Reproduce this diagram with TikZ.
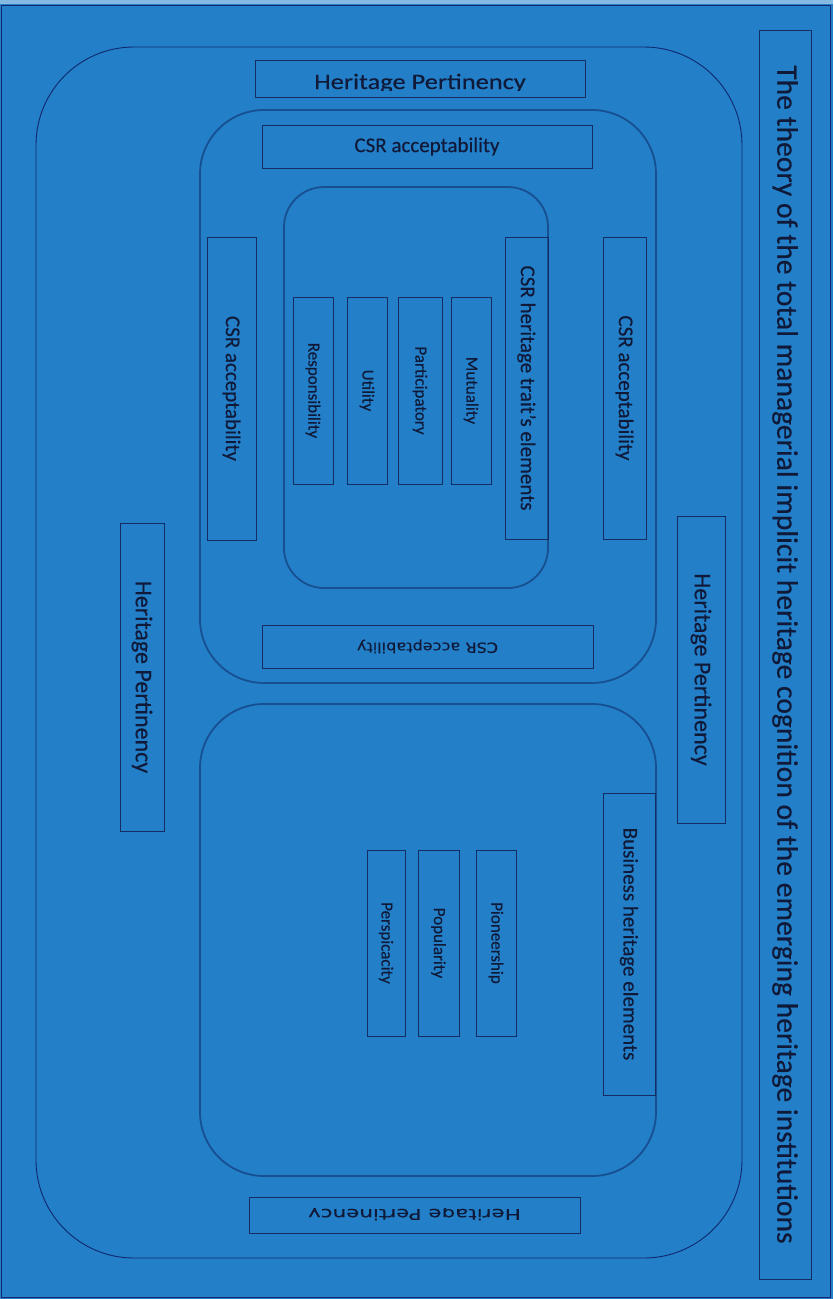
\documentclass[tikz,border=0pt]{standalone}
\usepackage{fontspec}
\setmainfont{Carlito}[FakeBold=0.35,AutoFakeBold=0.35]
\newfontfamily\dvs{DejaVu Sans}[FakeBold=0.2]
\usepackage{graphicx}
\definecolor{bgblue}{RGB}{34,127,200}
\definecolor{boxline}{RGB}{20,44,100}
\definecolor{softline}{RGB}{22,80,144}
\definecolor{outline}{RGB}{16,40,110}
\definecolor{txt}{RGB}{16,26,56}
\newcommand\myfs[1]{\fontsize{#1}{#1}\selectfont}
\begin{document}
\begin{tikzpicture}[x=1pt,y=-1pt,
  box/.style={draw=boxline, line width=0.9pt, inner sep=0pt, text=txt},
  vbox/.style={box, rotate=-90},
  soft/.style={draw=softline, line width=1.8pt},
  frame/.style={draw=outline, line width=0.9pt}]
\useasboundingbox (0,0) rectangle (833,1299);
\fill[bgblue] (0,0) rectangle (833,1299);
\fill[bgblue!55!white] (0,0) rectangle (833,4);
\draw[outline, line width=1pt] (1.5,5) rectangle (830.5,1297);

% containers
\draw[frame, rounded corners=98pt] (36,47) rectangle (742,1258);
\draw[soft, rounded corners=64pt] (200,110) rectangle (656,683);
\draw[soft, rounded corners=40pt] (284,187) rectangle (548,588);
\draw[soft, rounded corners=64pt] (200,704) rectangle (656,1176);

% title
\node[vbox, minimum width=1249, minimum height=52, font=\myfs{29.6}] (title) at (785,654.5)
  {The theory of the total managerial implicit heritage cognition of the emerging heritage institutions};

% Heritage Pertinency boxes
\node[box, minimum width=330, minimum height=37] (hptop) at (420,78.5) {};
\begin{scope}
  \clip (256,61) rectangle (584,90.5);
  \node[anchor=base, inner sep=0pt, text=txt, font=\myfs{22}] (hptoptext) at (420,89)
    {\scalebox{1.2}[1]{Heritage Pertinency}};
\end{scope}
\node[box, minimum width=331, minimum height=36] (hpbot) at (414.5,1215) {};
\begin{scope}
  \clip (250,1208.5) rectangle (579,1232);
  \node[anchor=base, rotate=180, inner sep=0pt, text=txt, font=\dvs\myfs{15}] (hpbottext) at (414.5,1209)
    {\scalebox{1.43}[1]{Heritage Pertinency}};
\end{scope}
\node[vbox, minimum width=308, minimum height=44, font=\myfs{24}] (hpleft) at (142,677) {Heritage Pertinency};
\node[vbox, minimum width=307, minimum height=48, font=\myfs{24}] (hpright) at (701,669.5) {Heritage Pertinency};

% CSR acceptability boxes
\node[box, minimum width=330, minimum height=43, font=\myfs{21}] (csrtop) at (427,146.5) {CSR acceptability};
\node[box, minimum width=331, minimum height=43, rotate=180, font=\dvs\myfs{14}] (csrbot) at (427.5,646.5)
  {\scalebox{1.15}[1]{CSR acceptability}};
\node[vbox, minimum width=303, minimum height=49, font=\myfs{21}] (csrleft) at (231.5,388.5) {CSR acceptability};
\node[vbox, minimum width=302, minimum height=43, font=\myfs{21}] (csrright) at (624.5,388) {CSR acceptability};

% CSR heritage traits
\node[vbox, minimum width=302, minimum height=43, font=\myfs{21}] (traits) at (526.5,388) {CSR heritage trait's elements};
\node[vbox, minimum width=187, minimum height=40, font=\myfs{17}] (resp) at (313,390.5) {Responsibility};
\node[vbox, minimum width=187, minimum height=40, font=\myfs{17}] (util) at (367,390.5) {Utility};
\node[vbox, minimum width=187, minimum height=44, font=\myfs{17}] (part) at (420,390.5) {Participatory};
\node[vbox, minimum width=187, minimum height=40, font=\myfs{17}] (mutu) at (471,390.5) {Mutuality};

% Business heritage
\node[vbox, minimum width=302, minimum height=52, font=\myfs{21}] (bus) at (629,944) {Business heritage elements};
\node[vbox, minimum width=186, minimum height=40, font=\myfs{17}] (pion) at (496,943) {Pioneership};
\node[vbox, minimum width=186, minimum height=41, font=\myfs{17}] (popu) at (438.5,943) {Popularity};
\node[vbox, minimum width=186, minimum height=38, font=\myfs{17}] (pers) at (386,943) {Perspicacity};
\end{tikzpicture}
\end{document}
